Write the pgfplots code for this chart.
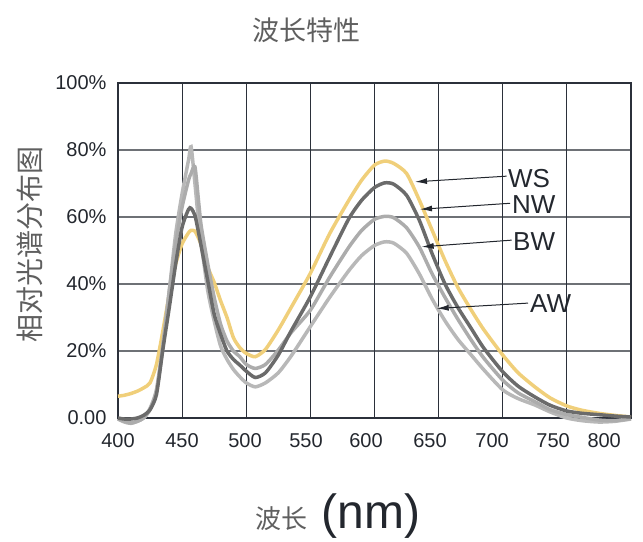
\documentclass[border=0pt]{standalone}
\usepackage{pgfplots}
\pgfplotsset{compat=1.18}
\usepackage{pgfplotstable}
\usepackage{fontspec}
\setmainfont{Liberation Sans}
\newfontfamily\cjk{Noto Sans CJK SC}
\usetikzlibrary{arrows.meta}

\definecolor{wsc}{RGB}{240,207,122}
\definecolor{nwc}{RGB}{107,107,107}
\definecolor{bwc}{RGB}{172,172,172}
\definecolor{awc}{RGB}{184,184,184}
\definecolor{gridv}{RGB}{43,48,58}
\definecolor{gridh}{RGB}{110,113,118}
\definecolor{labelc}{RGB}{35,39,46}
\definecolor{cjkc}{RGB}{95,95,95}

% wavelength (nm), relative intensity (%)
\pgfplotstableread{
x    ws    nw    bw    aw
400  6.5   0     -0.3  -0.3
405  6.8   -0.3  -1    -1.2
410  7.3   -0.3  -1.5  -1.6
415  8.0   0     -1    -1
420  9.0   0.8   0     0
425  10.5  2.5   2.5   2.9
430  16    7     8     8.5
435  26    20.5  21    22
440  37    33    38    38
445  46    46    52    55
450  52    57    63    67
455  55.3  62.3  71    77
457  56    62.6  73    81
460  55.8  60.5  75    70
463  53.5  55    64    58
465  51.5  51    57    52
470  45    41    46    38
475  40.5  31    36    29
480  35    25    28    21.5
485  30    20    23    17.5
490  24    17.5  20    14.5
495  21    15.8  18.3  12.3
500  19.3  14    16    10.5
507  18.3  12.1  14.8  9.3
515  20.5  13.5  16    10.5
525  26.3  18.8  20.3  13.5
535  33    26    25.5  18.5
550  43.2  36.2  32.2  27.3
565  55    48    42    36
580  65    59.5  51    44
590  71    65    56    48.5
600  75.5  68.8  59.3  51.5
608  76.7  70.2  60.2  52.6
615  76    69.8  59.8  52.2
625  73    66.5  56.8  49.2
635  65    59    51    43
645  56    49    43    35.5
655  47    40    36    29
665  39    33    29.5  23.5
675  32.5  27    23.5  19
685  26.5  21    18    14.5
700  18.8  13.8  11.3  8.4
712  13.5  9.5   7.5   5.8
725  9.3   6.3   4.9   3.9
737  6     3.8   2.5   1.8
750  3.6   2.1   1     0
762  2.3   1.4   0.2   -0.8
775  1.4   1     -0.6  -1.2
787  0.8   0.6   -0.8  -1
800  0.3   0.3   -0.2  -0.3
}\spectra

\begin{document}
\begin{tikzpicture}
\begin{axis}[
    width=513pt, height=335pt, scale only axis,
    xmin=400, xmax=800, ymin=0, ymax=100,
    clip=false,
    axis line style={gridv, line width=1.2pt},
    xtick={400,449.9,499,546.6,593.4,643.3,691.7,739.3,779.1},
    xticklabels={400,450,500,550,600,650,700,750,800},
    extra x ticks={450,500,550,600,650,700,750},
    extra x tick labels={},
    extra x tick style={grid=major, major grid style={gridv, line width=1.1pt}},
    ytick={0,20,40,60,80,100},
    yticklabels={0.00,20\%,40\%,60\%,80\%,100\%},
    ymajorgrids,
    major grid style={gridh, line width=1.1pt},
    major tick length=0pt,
    /pgf/number format/assume math mode=true,
    tick label style={font=\fontsize{20}{20}\selectfont, text=labelc},
    xticklabel style={yshift=-12pt},
    yticklabel style={xshift=-8pt},
]
\addplot[wsc, line width=3.5pt, smooth, tension=0.4] table[x=x, y=ws] {\spectra};
\addplot[awc, line width=3.5pt, smooth, tension=0.4] table[x=x, y=aw] {\spectra};
\addplot[bwc, line width=3.5pt, smooth, tension=0.4] table[x=x, y=bw] {\spectra};
\addplot[nwc, line width=3.5pt, smooth, tension=0.4] table[x=x, y=nw] {\spectra};

\draw[labelc, line width=1pt, -{Latex[length=12pt,width=6pt]}] (axis cs:703.1,72.2) -- (axis cs:631.6,70.5);
\draw[labelc, line width=1pt, -{Latex[length=12pt,width=6pt]}] (axis cs:705.7,64.1) -- (axis cs:635.5,62.3);
\draw[labelc, line width=1pt, -{Latex[length=12pt,width=6pt]}] (axis cs:707,53.1) -- (axis cs:636.8,51.1);
\draw[labelc, line width=1pt, -{Latex[length=12pt,width=6pt]}] (axis cs:719.7,34.3) -- (axis cs:648.5,32.7);
\node[anchor=west, inner sep=0pt, text=labelc, font=\fontsize{26}{26}\selectfont] at (axis cs:704.1,71.6) {WS};
\node[anchor=west, inner sep=0pt, text=labelc, font=\fontsize{26}{26}\selectfont] at (axis cs:707.2,63.6) {NW};
\node[anchor=west, inner sep=0pt, text=labelc, font=\fontsize{26}{26}\selectfont] at (axis cs:708,52.8) {BW};
\node[anchor=west, inner sep=0pt, text=labelc, font=\fontsize{26}{26}\selectfont] at (axis cs:721.2,34.3) {AW};

\node[text=cjkc, inner sep=0pt] at (rel axis cs:0.3665,1.158) {\cjk\fontsize{27}{27}\selectfont 波长特性};
\node[text=cjkc, inner sep=0pt, rotate=90] at (rel axis cs:-0.1715,0.519) {\cjk\fontsize{28}{28}\selectfont 相对光谱分布图};
\node[inner sep=0pt, anchor=base] at (rel axis cs:0.4289,-0.330) {{\color{cjkc}\cjk\fontsize{26}{26}\selectfont 波长}\hspace{14pt}{\color{labelc}\fontsize{48}{48}\selectfont (nm)}};

\path (rel axis cs:-0.230,-0.370) rectangle (rel axis cs:1.0234,1.2478);
\end{axis}
\end{tikzpicture}
\end{document}
